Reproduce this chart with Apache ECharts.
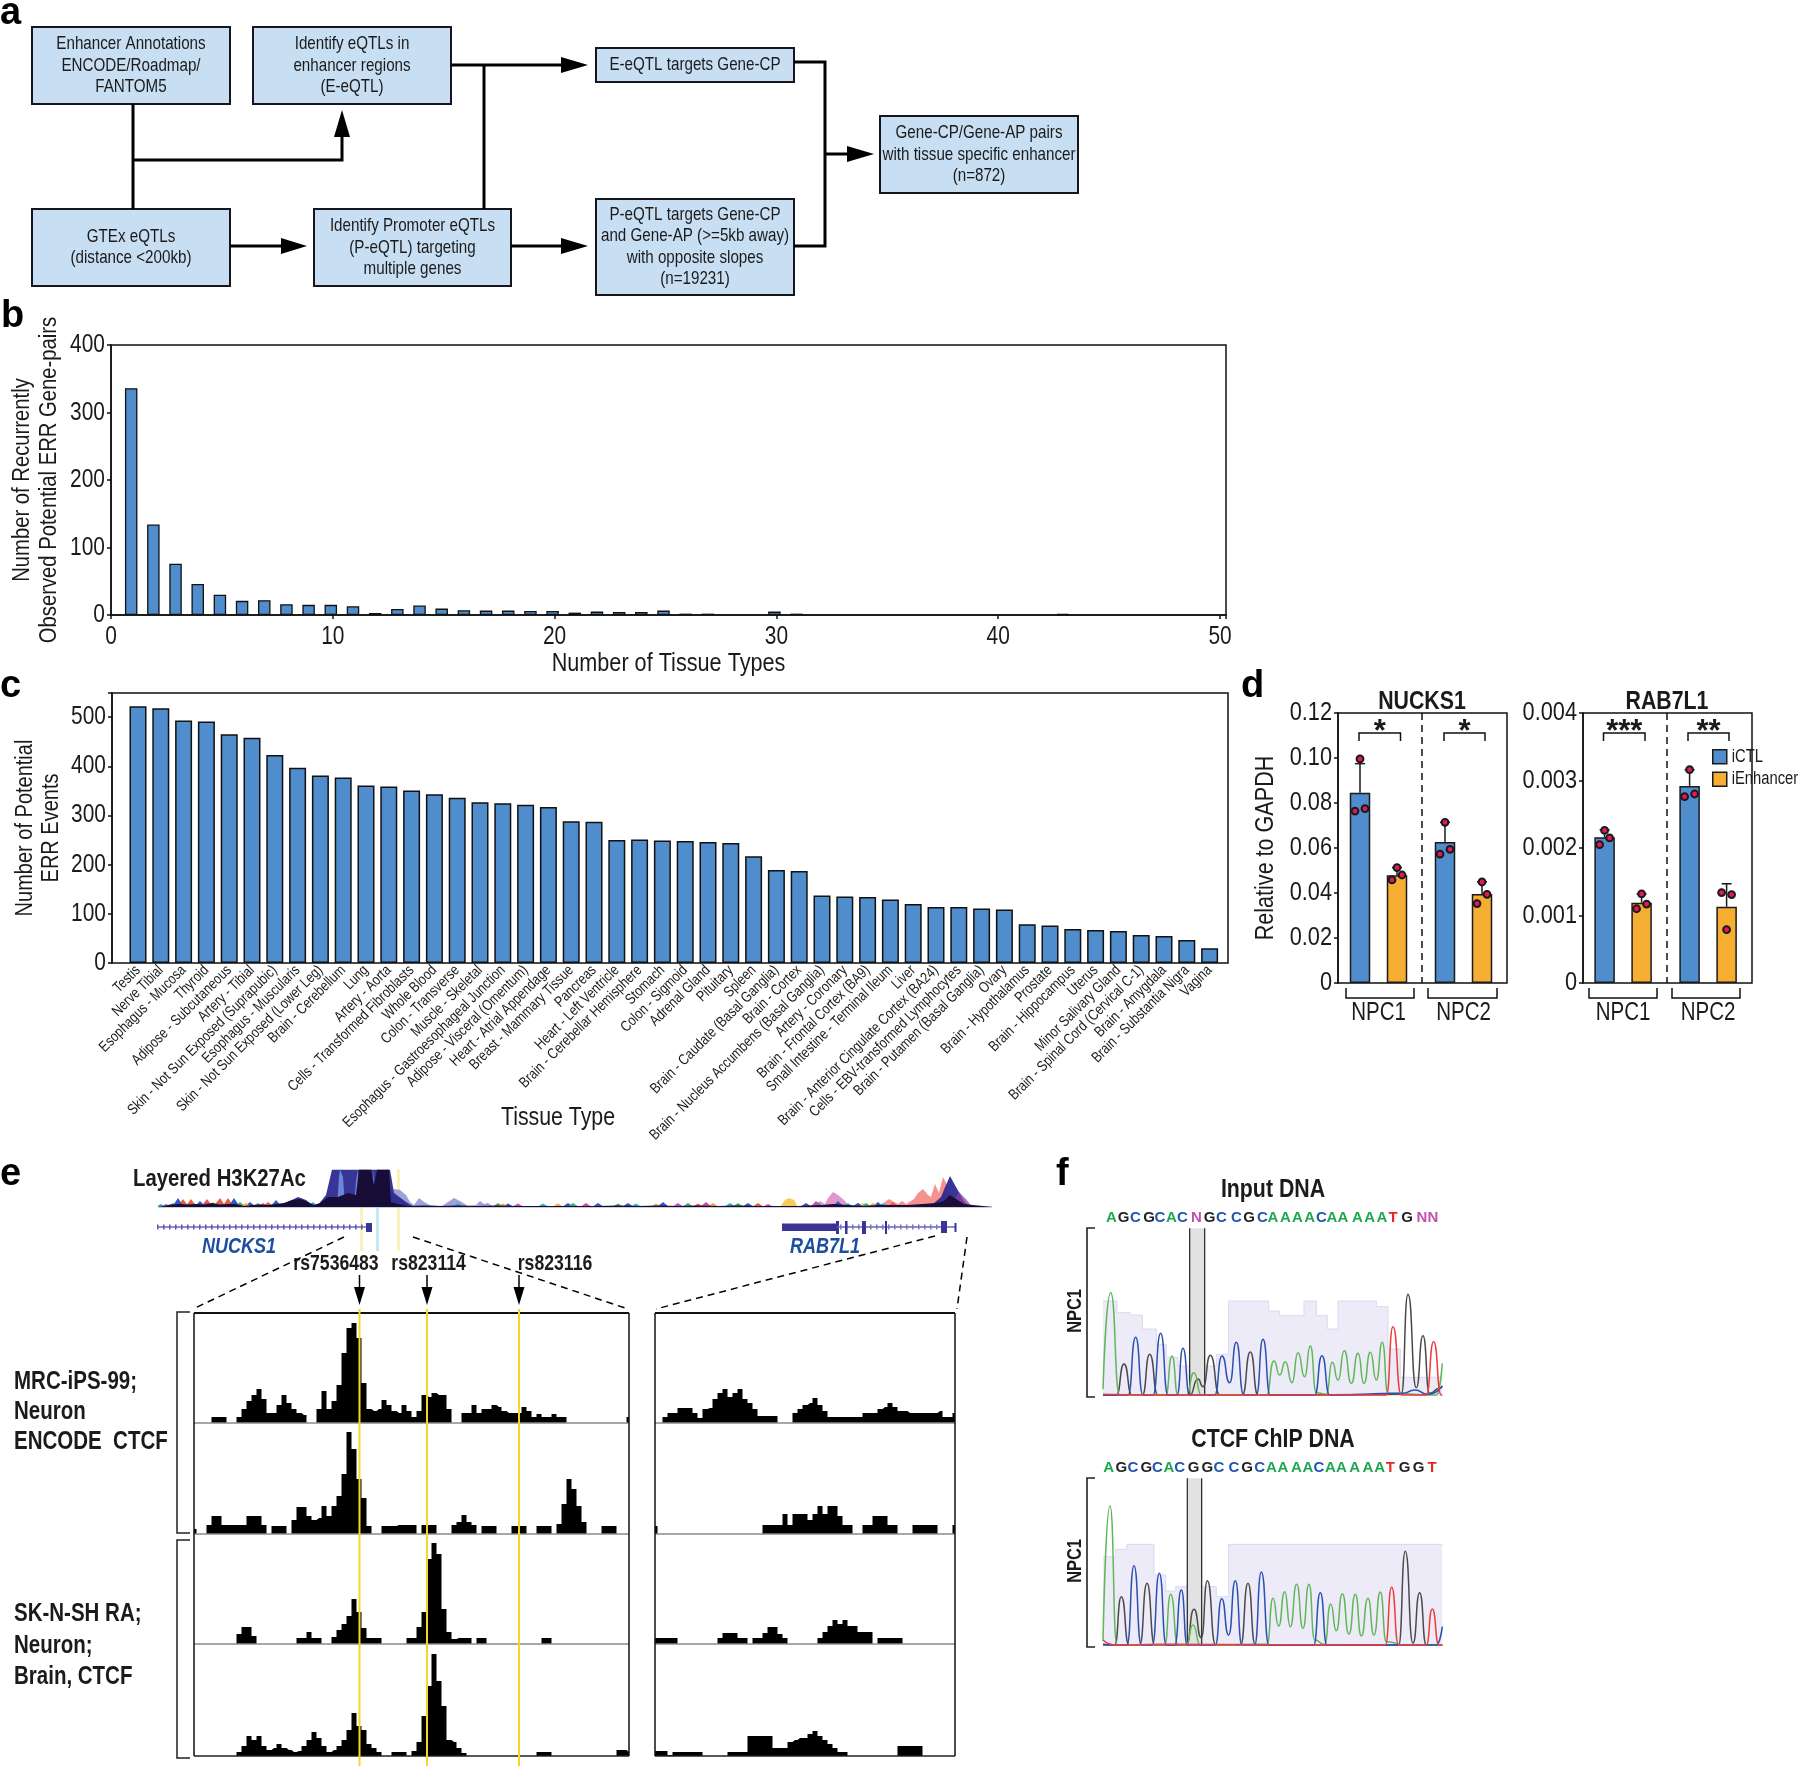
<!DOCTYPE html>
<html>
<head>
<meta charset="utf-8">
<style>html,body{margin:0;padding:0;background:#fff}#c{width:1800px;height:1768px}</style>
<script src="https://cdn.jsdelivr.net/npm/echarts@6/dist/echarts.min.js"></script>
</head>
<body>
<div id="c"></div>
<script>
/* ---------- panel b ---------- */
const recurrentGenePairs = [336,134,76,46,30,21,22,16,15,15,13,3,9,14,9.5,7,6.5,6.5,6,6,3.5,5,4.5,4.5,6.5,2,2,0,0,5,2,0,0,0,0,0,0,0,0,0,0,0,1.5];
/* ---------- panel c ---------- */
const tissues = ['Testis','Nerve Tibial','Esophagus - Mucosa','Thyroid','Adipose - Subcutaneous','Artery - Tibial','Skin - Not Sun Exposed (Suprapubic)','Esophagus - Muscularis','Skin - Not Sun Exposed (Lower Leg)','Brain - Cerebellum','Lung','Artery - Aorta','Cells - Transformed Fibroblasts','Whole Blood','Colon - Transverse','Muscle - Skeletal','Esophagus - Gastroesophageal Junction','Adipose - Visceral (Omentum)','Heart - Atrial Appendage','Breast - Mammary Tissue','Pancreas','Heart - Left Ventricle','Brain - Cerebellar Hemisphere','Stomach','Colon - Sigmoid','Adrenal Gland','Pituitary','Spleen','Brain - Caudate (Basal Ganglia)','Brain - Cortex','Brain - Nucleus Accumbens (Basal Ganglia)','Artery - Coronary','Brain - Frontal Cortex (BA9)','Small Intestine - Terminal Ileum','Liver','Brain - Anterior Cingulate Cortex (BA24)','Cells - EBV-transformed Lymphocytes','Brain - Putamen (Basal Ganglia)','Ovary','Brain - Hypothalamus','Prostate','Brain - Hippocampus','Uterus','Minor Salivary Gland','Brain - Spinal Cord (Cervical C-1)','Brain - Amygdala','Brain - Substantia Nigra','Vagina'];
const errEvents = [522,518,493,491,465,458,423,397,381,377,361,359,351,343,336,327,325,322,317,288,287,250,251,249,248,246,244,217,189,187,137,135,134,129,120,114,114,111,109,79,76,69,67,65,57,55,47,30];
/* ---------- panel d ---------- */
const npcGroups = ['NPC1','NPC2'];
const nucks1Ctl = [0.0846,0.0627], nucks1Enh = [0.0479,0.0396];
const nucks1CtlErr = [0.0975,0.0714], nucks1EnhErr = [0.0513,0.045];
const nucks1CtlPts = [[0.0996,0.0764,0.0775],[0.0714,0.0573,0.0594]];
const nucks1EnhPts = [[0.0513,0.0458,0.048],[0.0449,0.0353,0.0394]];
const rab7l1Ctl = [0.00216,0.00292], rab7l1Enh = [0.00119,0.00113];
const rab7l1CtlErr = [0.00227,0.00316], rab7l1EnhErr = [0.00132,0.00147];
const rab7l1CtlPts = [[0.00226,0.00205,0.00215],[0.00316,0.00276,0.0028]];
const rab7l1EnhPts = [[0.00132,0.0011,0.00117],[0.00079,0.00134,0.00131]];
/* ---------- panel e: layered H3K27Ac [position, signal] ---------- */
const h3Dark = [[0,0],[6,1],[12,2.5],[22,3],[30,2.5],[38,3],[46,2.5],[54,4],[62,2.5],[70,3],[78,3],[86,1],[94,2],[102,2.5],[110,2],[118,3],[126,4],[134,7],[142,8],[150,5],[156,2],[162,4],[170,10],[180,10],[190,14],[198,12],[201,37.5],[213,37.5],[216,22],[219,37.5],[231,37.5],[233,5],[240,3],[250,1],[265,1.5],[280,1],[300,1.5],[320,1],[340,1.5],[360,1],[380,1],[400,1],[420,1],[440,1],[460,1.5],[480,1],[500,1.5],[520,1],[540,1.5],[560,1],[580,1.5],[600,1],[620,1],[640,1],[650,1.5],[665,2],[675,3],[690,2],[705,1],[720,2],[735,2],[750,2],[765,3],[778,4],[786,6],[792,12],[798,8],[806,3],[815,2],[825,1],[834,0]];
const h3Navy = [[118,0],[124,3],[132,6],[140,10],[148,7],[154,2],[160,2],[168,12],[174,37.5],[232,37.5],[236,14],[248,5],[256,0],[770,0],[775,3],[783,10],[788,22],[792,31],[798,20],[806,6],[812,0]];
const h3Slits = [[179,0],[181,30],[182,37.5],[183,37.5],[185,30],[187,0],[196,0],[198,26],[200,37.5],[201,26],[202,0],[214,0],[215,37.5],[217,37.5],[218,0]];
const h3Peri = [[222,0],[228,10],[236,18],[242,17],[248,12],[252,5],[256,2],[261,9],[266,5],[272,2],[284,1],[290,5],[296,9],[302,6],[310,1],[318,2],[322,6],[326,3],[330,4],[336,0]];
const h3Pink = [[655,0],[662,6],[667,3],[670,9],[675,15],[680,12],[686,7],[692,0]];
const h3Purple = [[790,0],[795,5],[801,15],[808,8],[814,0]];
const h3Salmon = [[722,0],[727,5],[731,8],[736,5],[740,3],[744,6],[748,3],[756,8],[760,14],[765,18],[770,12],[773,10],[777,23],[781,14],[783,12],[785,30],[789,22],[792,10],[800,0]];
const h3Yellow = [[622,0],[627,7],[631,9],[636,7],[640,0],[700,0],[705,4],[710,0]];
const h3RedPeaks = [[25,8],[33,8],[49,8],[62,9],[70,9],[110,5],[150,4],[540,3.5],[600,4],[700,4],[735,5]];
const h3BluePeaks = [[20,9],[42,6],[76,9],[92,5],[118,7],[350,3.5],[410,4],[440,4],[470,4],[505,5],[590,4],[648,4],[680,6],[700,4],[720,5]];
const h3GreenPeaks = [[15,4],[36,4],[82,5],[100,4],[340,4],[415,4],[460,3.5],[530,4],[580,4],[660,5],[708,4]];
const h3OrangePeaks = [[55,5],[88,4],[128,4],[345,3.5],[400,3.5],[498,3.5],[555,4],[715,4]];
const h3MagentaPeaks = [[8,3],[47,5],[105,4],[360,3.5],[428,4],[520,4],[548,5],[610,3],[658,6]];
const h3TealPeaks = [[3,3],[60,4],[155,5],[300,4],[385,3.5],[478,3.5],[572,4],[690,4],[725,4]];
/* ---------- panel e: CTCF tracks ---------- */
const ctcfL1 = [0,0,0,0,6,6,6,0,0,6,14,22,28,34,24,10,10,18,28,20,14,10,8,0,0,14,32,14,22,38,70,95,100,85,40,14,12,14,23,18,12,10,18,12,6,12,28,26,30,28,28,14,0,0,10,10,18,10,14,14,18,16,12,10,10,10,16,12,6,9,6,6,9,6,6,0,0,0,0,0,0,0,0,0,0,0,0,6];
const ctcfL2 = [5,0,0,9,18,18,9,9,9,9,9,18,18,18,9,0,8,8,8,0,14,27,27,18,14,16,28,18,28,38,60,102,85,55,36,8,0,0,8,8,8,9,9,9,9,0,9,9,9,0,0,0,9,12,19,12,9,0,8,8,8,0,0,0,8,8,8,0,0,8,8,8,0,10,30,55,45,28,12,0,0,0,8,8,8,0,0,0];
const ctcfL3 = [0,0,0,0,0,0,0,0,0,10,17,17,8,0,0,0,0,0,0,0,0,6,6,12,6,6,0,0,7,14,20,28,45,32,16,6,6,6,0,0,0,0,0,6,6,17,32,85,101,90,35,12,5,6,6,6,0,6,6,0,0,0,0,0,0,0,0,0,0,0,6,6,0,0,0,0,0,0,0,0,0,0,0,0,0,0,0,0];
const ctcfL4 = [0,0,0,0,0,0,0,0,0,4,10,20,16,20,10,6,8,12,8,6,4,5,10,16,24,18,10,4,6,10,16,26,43,30,26,12,8,4,0,0,4,4,4,0,5,14,40,70,102,75,50,16,14,8,3,0,0,0,0,0,0,0,0,0,0,0,0,0,0,4,4,4,0,0,0,0,0,0,0,0,0,0,0,0,0,6,6,4];
const ctcfR1 = [0,0,6,10,10,15,15,15,10,5,14,15,24,30,34,26,30,34,24,20,14,7,7,7,7,0,0,0,10,14,18,20,25,18,12,6,6,6,6,6,6,6,10,10,10,14,16,20,16,12,12,10,10,10,10,10,10,12,6,6,10];
const ctcfR2 = [8,0,0,0,0,0,0,0,0,0,0,0,0,0,0,0,0,0,0,0,0,0,9,9,9,9,20,9,20,20,20,14,20,28,20,28,28,18,9,9,0,0,9,9,18,18,18,9,9,0,0,0,9,9,9,9,9,0,0,0,9];
const ctcfR3 = [6,6,6,6,6,0,0,0,0,0,0,0,0,6,11,11,11,6,6,0,6,6,11,17,17,10,6,0,0,0,0,0,0,6,12,18,24,20,24,18,18,12,12,12,0,6,6,6,6,6,0,0,0,0,0,0,0,0,0,0,0];
const ctcfR4 = [5,5,5,1,4,4,4,4,4,4,0,0,0,0,0,4,4,4,4,20,20,20,20,20,8,8,8,14,16,18,18,22,25,20,16,12,8,4,4,0,0,0,0,0,0,0,0,0,0,10,10,10,10,10,0,0,0,0,0,0,0];
/* ---------- panel f: sequences and chromatogram traces [scan, signal] ---------- */
const seqInput = ['A','G','C','G','C','A','C','N','G','C','C','G','C','A','A','A','A','C','A','A','A','A','A','T','G','N','N'];
const seqInputPos = [215,252,287,328,361,395,428,470,510,545,590,628,668,700,737,773,810,845,877,910,953,990,1027,1060,1102,1147,1180];
const seqChip = ['A','G','C','G','C','A','C','G','G','C','C','G','C','A','A','A','A','C','A','A','A','A','A','T','G','G','T'];
const seqChipPos = [207,245,280,320,353,388,420,462,503,538,583,622,660,695,730,770,805,838,872,905,945,985,1020,1052,1095,1137,1177];
const inputG = [[190,3],[230,2],[253,96],[277,2],[308,2],[330,125],[355,2],[450,2],[475,51],[490,28],[512,122],[540,3],[608,3],[632,132],[655,3],[1085,5],[1105,305],[1130,25],[1150,181],[1170,8],[1200,23],[1208,30]];
const inputA = [[190,20],[213,310],[240,3],[378,2],[397,120],[415,3],[440,2],[463,70],[485,3],[680,3],[703,105],[720,63],[737,103],[757,40],[775,130],[795,58],[812,150],[830,10],[860,5],[878,101],[895,48],[914,136],[935,38],[955,128],[973,38],[992,131],[1010,48],[1028,161],[1045,8],[1190,3],[1208,98]];
const inputC = [[190,3],[265,3],[288,176],[310,3],[340,3],[363,188],[385,3],[412,3],[430,143],[450,3],[525,3],[547,120],[570,40],[590,161],[612,3],[650,3],[670,170],[692,3],[825,3],[847,121],[870,3],[1090,8],[1125,18],[1165,5],[1208,30]];
const inputT = [[190,5],[450,3],[1040,3],[1060,208],[1085,3],[1160,3],[1182,163],[1205,3],[1208,3]];
const inputQ = [[190,285],[232,250],[272,243],[308,201],[350,155],[380,116],[415,90],[530,125],[567,285],[687,255],[720,241],[793,285],[830,241],[863,201],[895,285],[1010,268],[1045,141],[1082,56],[1208,56]];
const chipG = [[190,5],[225,3],[245,148],[268,3],[300,3],[322,188],[345,3],[440,3],[463,110],[485,25],[503,196],[528,3],[603,3],[625,188],[647,3],[1077,3],[1097,284],[1120,8],[1140,160],[1160,3],[1208,3]];
const chipA = [[190,15],[211,420],[232,3],[375,3],[393,155],[415,3],[440,3],[460,63],[482,3],[682,5],[700,143],[717,60],[735,163],[752,58],[771,185],[790,53],[808,185],[825,18],[855,5],[873,126],[890,46],[908,157],[928,36],[947,155],[965,30],[985,143],[1003,33],[1022,162],[1040,13],[1100,3],[1208,3]];
const chipC = [[190,3],[262,3],[283,241],[305,3],[338,3],[359,218],[380,3],[405,3],[425,168],[443,3],[527,3],[546,142],[567,33],[587,196],[607,3],[645,3],[665,222],[688,3],[822,3],[842,160],[862,3],[1190,3],[1208,58]];
const chipT = [[190,18],[230,3],[375,5],[1037,3],[1056,176],[1077,3],[1160,3],[1178,111],[1198,3],[1208,3]];
const chipQ = [[190,268],[228,290],[262,305],[343,213],[378,165],[408,178],[530,148],[567,305],[1208,305]];

/* The reference uses a condensed Helvetica. If no narrow face is installed, condense the
   regular Liberation Sans horizontally when drawing text set in the "Narrow" family. */
(function(){
  const probe = document.createElement('canvas').getContext('2d');
  probe.font = "100px 'Liberation Sans Narrow',monospace"; const a = probe.measureText('Hamburgefonts').width;
  probe.font = "100px monospace"; const b = probe.measureText('Hamburgefonts').width;
  if (a !== b) return;
  const k = 0.82, PR = CanvasRenderingContext2D.prototype, ft = PR.fillText, mt = PR.measureText;
  PR.fillText = function(t,x,y,mw){
    if (!this.font.includes('Narrow')) return ft.call(this,t,x,y,mw);
    this.save(); this.translate(x,y); this.scale(k,1); ft.call(this,t,0,0); this.restore();
  };
  PR.measureText = function(t){
    const m = mt.call(this,t);
    if (!this.font.includes('Narrow')) return m;
    return {width:m.width*k,actualBoundingBoxAscent:m.actualBoundingBoxAscent,actualBoundingBoxDescent:m.actualBoundingBoxDescent,
      actualBoundingBoxLeft:m.actualBoundingBoxLeft*k,actualBoundingBoxRight:m.actualBoundingBoxRight*k,
      fontBoundingBoxAscent:m.fontBoundingBoxAscent,fontBoundingBoxDescent:m.fontBoundingBoxDescent};
  };
})();

const FF = "'Liberation Sans Narrow','Liberation Sans',sans-serif";
const FW = "'Liberation Sans',sans-serif";
const INK = '#1b1b1b', BLUE = '#4f8dcd', ORANGE = '#f5ae32';
const g = [], grids = [], xAxes = [], yAxes = [], series = [];

const T = (text,x,y,o={}) => g.push({type:'text',x,y,rotation:o.rot||0,z:o.z||20,silent:true,style:{text,fill:o.fill||INK,
  font:`${o.italic?'italic ':''}${o.bold?'bold ':''}${o.size||19}px ${o.ff||FF}`,
  textAlign:o.align||'center',textVerticalAlign:'middle',align:o.align||'center',verticalAlign:'middle'}});
const L = (pts,o={}) => g.push({type:'polyline',z:o.z||20,silent:true,shape:{points:pts},style:{stroke:o.c||'#111',lineWidth:o.w||1.5,fill:null,lineDash:o.dash||null}});
const P = (pts,c,z) => g.push({type:'polygon',z:z||20,silent:true,shape:{points:pts},style:{fill:c||'#000'}});
const R = (x0,y0,x1,y1,o={}) => g.push({type:'rect',z:o.z||20,silent:true,shape:{x:x0,y:y0,width:x1-x0,height:y1-y0},style:{fill:o.fill||null,stroke:o.stroke||null,lineWidth:o.w||0}});

/* panel letters */
[['a',0,14],['b',1,317],['c',0,687],['d',1241,687],['e',0,1175],['f',1056,1175]].forEach(a=>T(a[0],a[1],a[2],{size:38,bold:true,ff:FW,align:'left',fill:'#000'}));

/* ---------- panel a : flow diagram ---------- */
const box = (x0,y0,x1,y1,lines) => {
  R(x0,y0,x1,y1,{fill:'#c8def3',stroke:'#16161f',w:2});
  const h = 21.3, yc = (y0+y1)/2;
  lines.forEach((t,i)=>T(t,(x0+x1)/2,yc+(i-(lines.length-1)/2)*h,{size:18.5}));
};
box(32,27,230,104,['Enhancer Annotations','ENCODE/Roadmap/','FANTOM5']);
box(253,27,451,104,['Identify eQTLs in','enhancer regions','(E-eQTL)']);
box(596,48,794,82,['E-eQTL targets Gene-CP']);
box(880,116,1078,193,['Gene-CP/Gene-AP pairs','with tissue specific enhancer','(n=872)']);
box(32,209,230,286,['GTEx eQTLs','(distance <200kb)']);
box(314,209,511,286,['Identify Promoter eQTLs','(P-eQTL) targeting','multiple genes']);
box(596,199,794,295,['P-eQTL targets Gene-CP','and Gene-AP (>=5kb away)','with opposite slopes','(n=19231)']);
const W = 3;
L([[133,104],[133,209]],{w:W,c:'#000'});
L([[133,160],[342,160],[342,136]],{w:W,c:'#000'});
P([[334,137],[350,137],[342,110]]);
L([[451,65],[562,65]],{w:W,c:'#000'}); P([[561,57],[561,73],[588,65]]);
L([[484,65],[484,209]],{w:W,c:'#000'});
L([[230,246],[282,246]],{w:W,c:'#000'}); P([[281,238],[281,254],[307,246]]);
L([[511,246],[562,246]],{w:W,c:'#000'}); P([[561,238],[561,254],[588,246]]);
L([[794,62],[825,62],[825,246],[794,246]],{w:W,c:'#000'});
L([[825,154],[848,154]],{w:W,c:'#000'}); P([[847,146],[847,162],[874,154]]);

/* grid helpers */
const addGrid = (left,top,width,height,extra={}) => { grids.push(Object.assign({left,top,width,height,containLabel:false,outerBoundsMode:'none',show:false},extra)); return grids.length-1; };
const axText = (size,extra={}) => Object.assign({fontFamily:FF,fontSize:size,color:INK},extra);
const axLine = {show:true,lineStyle:{color:'#111',width:1.5}};
const frameOpts = {show:true,borderColor:'#111',borderWidth:1.5,backgroundColor:'transparent'};

/* ---------- panel b ---------- */
{
  const gi = addGrid(111,345,1115,270,frameOpts);
  xAxes.push({gridIndex:gi,type:'value',min:0,max:50.27,interval:10,axisLine:axLine,splitLine:{show:false},
    axisTick:{length:4,lineStyle:{color:'#111',width:1.5}},
    axisLabel:Object.assign(axText(25.5),{margin:11,formatter:v=>v%10===0?String(v):''}),
    name:'Number of Tissue Types',nameLocation:'middle',nameGap:38,nameMoveOverlap:false,nameTextStyle:axText(26.4)});
  yAxes.push({gridIndex:gi,type:'value',min:0,max:400,interval:100,axisLine:axLine,splitLine:{show:false},
    axisTick:{length:4,lineStyle:{color:'#111',width:1.5}},
    axisLabel:axText(25.5,{margin:6}),
    name:'Number of Recurrently\nObserved Potential ERR Gene-pairs',nameLocation:'middle',nameGap:48,nameMoveOverlap:false,nameRotate:90,
    nameTextStyle:axText(24.7,{lineHeight:27})});
  /* a hidden companion axis on the same grid carries the bars, which sit slightly left of their ticks in the reference */
  xAxes.push({gridIndex:gi,type:'value',show:false,min:0.09,max:50.36});
  series.push({type:'bar',name:'Gene pairs',xAxisIndex:xAxes.length-1,yAxisIndex:yAxes.length-1,barWidth:12.5,
    itemStyle:{color:BLUE,borderColor:'#111',borderWidth:1.3},
    data:recurrentGenePairs.map((v,i)=>[i+1,v]).filter(d=>d[1]>0)});
}

/* ---------- panel c ---------- */
{
  const gf = addGrid(112,693,1116,270,frameOpts);
  xAxes.push({gridIndex:gf,type:'value',show:false,min:0,max:1});
  yAxes.push({gridIndex:gf,type:'value',min:0,max:549,interval:100,axisLine:axLine,splitLine:{show:false},
    axisTick:{length:4,lineStyle:{color:'#111',width:1.5}},
    axisLabel:Object.assign(axText(25.5),{margin:6,formatter:v=>v%100===0?String(v):''}),
    name:'Number of Potential\nERR Events',nameLocation:'middle',nameGap:48,nameMoveOverlap:false,nameRotate:90,nameTextStyle:axText(24.4,{lineHeight:26})});
  const gb = addGrid(126.6,693,1094.4,270);
  xAxes.push({gridIndex:gb,type:'category',data:tissues,axisLine:{show:false},axisTick:{show:false},
    axisLabel:axText(15,{interval:0,rotate:45,margin:5,hideOverlap:false})});
  yAxes.push({gridIndex:gb,type:'value',show:false,min:0,max:549});
  series.push({type:'bar',name:'ERR events',xAxisIndex:xAxes.length-1,yAxisIndex:yAxes.length-1,barWidth:17,
    itemStyle:{color:BLUE,borderColor:'#111',borderWidth:1.5},data:errEvents});
  T('Tissue Type',558,1118,{size:26});
}

/* ---------- panel d ---------- */
const sideOff = [-18.5,18.5], jitter = [0,-5,5];
function dPanel(o){
  const gf = addGrid(o.left,713,169,270,frameOpts);
  xAxes.push({gridIndex:gf,type:'value',show:false,min:0,max:1});
  yAxes.push({gridIndex:gf,type:'value',min:0,max:o.max,interval:o.step,axisLine:axLine,splitLine:{show:false},
    axisTick:{length:4,lineStyle:{color:'#111',width:1.5}},
    axisLabel:Object.assign(axText(26.5),{margin:6,formatter:v=>v===0?'0':v.toFixed(o.dec)}),
    name:o.yname||'',nameLocation:'middle',nameGap:62,nameMoveOverlap:false,nameRotate:90,nameTextStyle:axText(26.3)});
  const gb = addGrid(o.barLeft,713,170,270);
  xAxes.push({gridIndex:gb,type:'category',data:npcGroups,axisLine:{show:false},axisTick:{show:false},
    axisLabel:axText(25,{margin:20})});
  yAxes.push({gridIndex:gb,type:'value',show:false,min:0,max:o.max});
  const xi = xAxes.length-1, yi = yAxes.length-1;
  series.push({type:'bar',name:'iCTL',xAxisIndex:xi,yAxisIndex:yi,barWidth:20.5,barGap:'80.5%',
    itemStyle:{color:BLUE,borderColor:'#1a1a1a',borderWidth:1.5},data:o.ctl});
  series.push({type:'bar',name:'iEnhancer',xAxisIndex:xi,yAxisIndex:yi,barWidth:20.5,barGap:'80.5%',
    itemStyle:{color:ORANGE,borderColor:'#1a1a1a',borderWidth:1.5},data:o.enh});
  const errData = [];
  [0,1].forEach(c=>{errData.push([c,0,o.ctl[c],o.ctlErr[c]]);errData.push([c,1,o.enh[c],o.enhErr[c]]);});
  series.push({type:'custom',name:o.title+' error',xAxisIndex:xi,yAxisIndex:yi,z:4,silent:true,data:errData,
    encode:{x:0,y:3},renderItem:(p,api)=>{
      const c=api.value(0), off=sideOff[api.value(1)];
      const a=api.coord([c,api.value(2)]), b=api.coord([c,api.value(3)]), x=a[0]+off;
      const st={stroke:'#1a1a1a',lineWidth:1.5};
      return {type:'group',children:[
        {type:'line',shape:{x1:x,y1:a[1],x2:x,y2:b[1]},style:st},
        {type:'line',shape:{x1:x-5,y1:b[1],x2:x+5,y2:b[1]},style:st}]};
    }});
  const ptData = [];
  [0,1].forEach(c=>{
    o.ctlPts[c].forEach((v,j)=>ptData.push([c,0,j,v]));
    o.enhPts[c].forEach((v,j)=>ptData.push([c,1,j,v]));
  });
  series.push({type:'custom',name:o.title+' replicates',xAxisIndex:xi,yAxisIndex:yi,z:5,silent:true,data:ptData,
    encode:{x:0,y:3},renderItem:(p,api)=>{
      const c=api.value(0), pt=api.coord([c,api.value(3)]);
      return {type:'circle',shape:{cx:pt[0]+sideOff[api.value(1)]+jitter[api.value(2)],cy:pt[1],r:3.4},
        style:{fill:'#e5185a',stroke:'#1a1a1a',lineWidth:2}};
    }});
  T(o.title,o.left+84,702,{size:26,bold:true});
  const mid = o.left+84;
  L([[mid,713],[mid,983]],{dash:[7,5],w:1.5});
  o.sig.forEach(s=>{
    L([[s[0],741],[s[0],733],[s[1],733],[s[1],741]],{w:1.5});
    T(s[2],(s[0]+s[1])/2,732,{size:31,bold:true,ff:FW});
  });
  o.brk.forEach(b=>L([[b[0],988],[b[0],998],[b[1],998],[b[1],988]],{w:1.5}));
}
dPanel({left:1338,barLeft:1336,max:0.12,step:0.02,dec:2,yname:'Relative to GAPDH',title:'NUCKS1',ctl:nucks1Ctl,enh:nucks1Enh,ctlErr:nucks1CtlErr,enhErr:nucks1EnhErr,ctlPts:nucks1CtlPts,enhPts:nucks1EnhPts,
  sig:[[1359,1400.5,'*'],[1444,1485,'*']],brk:[[1346,1414],[1428,1497]]});
dPanel({left:1583,barLeft:1580.6,max:0.004,step:0.001,dec:3,title:'RAB7L1',ctl:rab7l1Ctl,enh:rab7l1Enh,ctlErr:rab7l1CtlErr,enhErr:rab7l1EnhErr,ctlPts:rab7l1CtlPts,enhPts:rab7l1EnhPts,
  sig:[[1603.5,1645,'***'],[1688,1729,'**']],brk:[[1589,1657],[1672,1740]]});

/* ---------- panel e : layered H3K27Ac ---------- */
const humps = peaks => { const out=[]; peaks.forEach(p=>{out.push([p[0]-6,0],[p[0],p[1]],[p[0]+6,0]);}); return out; };
{
  const gi = addGrid(158,1169.5,834,37.5);
  xAxes.push({gridIndex:gi,type:'value',show:false,min:0,max:834});
  yAxes.push({gridIndex:gi,type:'value',show:false,min:0,max:37.5});
  const xi=xAxes.length-1, yi=yAxes.length-1;
  [['Periwinkle',h3Peri,'#8d92d2',.85],['Pink',h3Pink,'#d674bd',.75],['Salmon',h3Salmon,'#f47f7a',.85],['Yellow',h3Yellow,'#f4c94d',.95],
   ['Red',humps(h3RedPeaks),'#ee5a3a',1],['Blue',humps(h3BluePeaks),'#3456c4',1],['Green',humps(h3GreenPeaks),'#3fae6a',1],
   ['Orange',humps(h3OrangePeaks),'#f3a63b',1],['Magenta',humps(h3MagentaPeaks),'#c94fb0',1],['Teal',humps(h3TealPeaks),'#2fb0c0',1],
   ['Navy',h3Navy,'#2c2a8f',.95],['Slits',h3Slits,'#6f8fe0',.9],['Purple',h3Purple,'#8a3fa6',.7],
   ['Dark',h3Dark,'#180d36',1]
   ].forEach(l=>{
    series.push({type:'line',name:'H3K27Ac '+l[0],xAxisIndex:xi,yAxisIndex:yi,data:l[1],showSymbol:false,silent:true,
      lineStyle:{width:0},itemStyle:{color:l[2]},areaStyle:{color:l[2],opacity:l[3]},z:3});
  });
}
T('Layered H3K27Ac',133,1179,{size:24.8,align:'left',bold:true});
L([[158,1207],[992,1207]],{c:'#bdbdc9',w:1.5,z:2});
/* pale highlight bands */
R(360,1207,363,1251,{fill:'#f8f3bd',z:1});
R(376,1207,379,1251,{fill:'#c2e8f6',z:1});
R(397,1169,400,1251,{fill:'#f8f3bd',z:1});
/* gene models */
const GENE='#3a3496';
L([[157,1227],[367,1227]],{c:'#6a64bd',w:1.5});
L([[157,1227],[367,1227]],{c:'#5a54b4',w:5,dash:[1.5,4.5]});
R(366,1223,372,1232,{fill:GENE});
R(782,1223.5,837,1231,{fill:GENE});
R(836,1221,839,1234,{fill:GENE});
L([[837,1227],[956,1227]],{c:'#6a64bd',w:1.5});
L([[840,1227],[942,1227]],{c:'#7a74c4',w:5,dash:[1.5,4.5]});
R(845,1221,847.5,1234,{fill:GENE});
R(862,1221,866,1234,{fill:GENE});
R(885,1221,887,1234,{fill:GENE});
R(941,1221,947,1233,{fill:GENE});
R(954.5,1223,956.5,1232,{fill:GENE});
T('NUCKS1',239,1247,{size:22,bold:true,italic:true,fill:'#1c4ea0'});
T('RAB7L1',825,1247,{size:22,bold:true,italic:true,fill:'#1c4ea0'});
[['rs7536483',336],['rs823114',428.6],['rs823116',555]].forEach(r=>T(r[0],r[1],1264,{size:21.5,bold:true}));
/* zoom guides */
[[[344,1237],[193,1309]],[[413,1237],[628,1309]],[[935,1236],[656,1309]],[[967,1237],[957,1309]]].forEach(d=>L(d,{dash:[7,5],w:1.5,c:'#000',z:21}));
/* tracks */
const trackTops = [1313,1423,1534,1644], trackH = [110,111,110,112];
const leftTracks = [ctcfL1,ctcfL2,ctcfL3,ctcfL4], rightTracks = [ctcfR1,ctcfR2,ctcfR3,ctcfR4];
[[194,435,leftTracks,'left'],[655,300,rightTracks,'right']].forEach(p=>{
  p[2].forEach((arr,i)=>{
    const gi = addGrid(p[0],trackTops[i],p[1],trackH[i]);
    xAxes.push({gridIndex:gi,type:'category',show:false,boundaryGap:false,data:arr.map((_,k)=>k)});
    yAxes.push({gridIndex:gi,type:'value',show:false,min:0,max:trackH[i]});
    series.push({type:'line',name:'CTCF '+p[3]+' '+(i+1),xAxisIndex:xAxes.length-1,yAxisIndex:yAxes.length-1,data:arr,step:'middle',
      showSymbol:false,silent:true,lineStyle:{width:0},itemStyle:{color:'#000'},areaStyle:{color:'#000',opacity:1}});
  });
  const x0=p[0], x1=p[0]+p[1];
  [1423,1534,1644].forEach(y=>L([[x0,y],[x1,y]],{c:'#8a8a8a',w:1.5,z:30}));
  L([[x0,1756],[x1,1756]],{c:'#222',w:1.5,z:30});
  L([[x0,1313],[x1,1313]],{c:'#111',w:2.2,z:30});
  L([[x0,1313],[x0,1756]],{c:'#111',w:1.5,z:30});
  L([[x1,1313],[x1,1756]],{c:'#111',w:1.5,z:30});
});
/* SNP lines + arrows */
[359.5,427,519].forEach(x=>{
  L([[x,1309],[x,1766]],{c:'#f6d62b',w:2,z:40});
  L([[x,1275],[x,1288]],{c:'#000',w:1.5,z:40});
  P([[x-5.5,1287],[x+5.5,1287],[x,1305]],'#000',40);
});
L([[190,1312],[177,1312],[177,1533],[190,1533]],{c:'#222',w:1.5});
L([[190,1540],[177,1540],[177,1758],[190,1758]],{c:'#222',w:1.5});
[['MRC-iPS-99;',1382],['Neuron',1412],['ENCODE  CTCF',1442],['SK-N-SH RA;',1614],['Neuron;',1646],['Brain, CTCF',1677]].forEach(t=>T(t[0],14,t[1],{size:25,bold:true,align:'left'}));

/* ---------- panel f ---------- */
const seqColor = {A:'#1fa750',G:'#222222',C:'#1f55b0',T:'#e8281e',N:'#c04fb0'};
function chromatogram(top,title,letters,pos,G,A,C,Tr,Q,band){
  const gi = addGrid(1103,top,339.3,186);
  xAxes.push({gridIndex:gi,type:'value',show:false,min:190,max:1208});
  yAxes.push({gridIndex:gi,type:'value',show:false,min:0,max:558});
  const xi=xAxes.length-1, yi=yAxes.length-1;
  series.push({type:'line',name:title+' quality',xAxisIndex:xi,yAxisIndex:yi,data:Q,step:'end',showSymbol:false,silent:true,z:1,
    lineStyle:{color:'#d9d9f1',width:1},areaStyle:{color:'#ecebf7',opacity:1}});
  series.push({type:'custom',name:title+' variant',xAxisIndex:xi,yAxisIndex:yi,z:2,silent:true,data:[band],encode:{x:[0,1],y:2},
    renderItem:(p,api)=>{
      const a=api.coord([api.value(0),api.value(2)]), b=api.coord([api.value(1),0]);
      const st={stroke:'#333',lineWidth:1.3};
      return {type:'group',children:[
        {type:'rect',shape:{x:a[0],y:a[1],width:b[0]-a[0],height:b[1]-a[1]},style:{fill:'#e2e2e2'}},
        {type:'line',shape:{x1:a[0],y1:a[1],x2:a[0],y2:b[1]},style:st},
        {type:'line',shape:{x1:b[0],y1:a[1],x2:b[0],y2:b[1]},style:st}]};
    }});
  [['G',G,'#4a4a4a'],['A',A,'#62b65a'],['C',C,'#2b50b4'],['T',Tr,'#ee3b3b']].forEach(s=>{
    series.push({type:'line',name:title+' trace '+s[0],xAxisIndex:xi,yAxisIndex:yi,data:s[1],smooth:0.6,smoothMonotone:'x',showSymbol:false,silent:true,z:3,
      lineStyle:{color:s[2],width:1.5},itemStyle:{color:s[2]}});
  });
  series.push({type:'custom',name:title+' bases',xAxisIndex:xi,yAxisIndex:yi,z:4,silent:true,data:pos.map(p=>[p,533]),encode:{x:0,y:1},
    renderItem:(p,api)=>{
      const c=api.coord([api.value(0),api.value(1)]), t=letters[p.dataIndex];
      return {type:'text',x:c[0],y:c[1],style:{text:t,fill:seqColor[t],font:`bold 15px ${FW}`,align:'center',verticalAlign:'middle',textAlign:'center',textVerticalAlign:'middle'}};
    }});
  T(title,1273,top-20,{size:26,bold:true});
  L([[1095,top+18],[1087,top+18],[1087,top+187],[1095,top+187]],{c:'#222',w:1.6});
  T('NPC1',1075,top+101,{size:20,bold:true,rot:Math.PI/2});
}
chromatogram(1210,'Input DNA',seqInput,seqInputPos,inputG,inputA,inputC,inputT,inputQ,[450,495,503]);
chromatogram(1460,'CTCF ChIP DNA',seqChip,seqChipPos,chipG,chipA,chipC,chipT,chipQ,[443,486,503]);

const chart = echarts.init(document.getElementById('c'),null,{renderer:'canvas'});
chart.setOption({
  animation:false,backgroundColor:'#fff',textStyle:{fontFamily:FF},tooltip:{show:false},
  legend:{show:true,data:['iCTL','iEnhancer'],left:1712,top:749,orient:'vertical',itemWidth:14,itemHeight:14,itemGap:7,icon:'rect',selectedMode:false,padding:0,
    itemStyle:{borderColor:'#1a1a1a',borderWidth:1.5},textStyle:{fontFamily:FF,fontSize:18,color:INK}},
  grid:grids,xAxis:xAxes,yAxis:yAxes,series,graphic:{elements:g}
});
</script>
</body>
</html>
